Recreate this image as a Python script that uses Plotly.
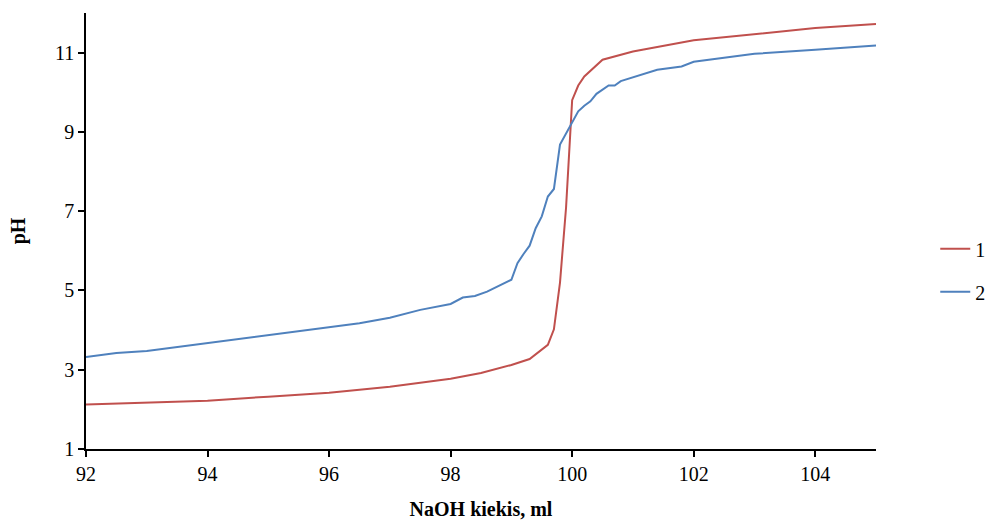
import plotly.graph_objects as go

# Titration curves: pH versus volume of NaOH added
naoh_1 = [92, 93, 94, 95, 96, 97, 98, 98.5, 99, 99.3, 99.6, 99.7, 99.8, 99.9,
          100.0, 100.1, 100.2, 100.5, 101, 102, 103, 104, 105]
ph_1 = [2.12, 2.17, 2.22, 2.32, 2.42, 2.57, 2.77, 2.92, 3.12, 3.27, 3.63, 4.02,
        5.2, 7.1, 9.8, 10.17, 10.4, 10.82, 11.03, 11.31, 11.47, 11.62, 11.72]

naoh_2 = [92, 92.5, 93, 94, 95, 96, 96.5, 97, 97.5, 98, 98.2, 98.4, 98.6, 99.0,
          99.1, 99.2, 99.3, 99.4, 99.5, 99.6, 99.7, 99.8, 99.9, 100.1, 100.2,
          100.3, 100.4, 100.6, 100.7, 100.8, 101.4, 101.8, 102, 103, 104, 105]
ph_2 = [3.32, 3.42, 3.47, 3.67, 3.87, 4.07, 4.17, 4.31, 4.51, 4.66, 4.82, 4.86,
        4.97, 5.27, 5.69, 5.92, 6.13, 6.57, 6.87, 7.37, 7.56, 8.68, 8.97, 9.52,
        9.66, 9.77, 9.96, 10.17, 10.17, 10.28, 10.57, 10.65, 10.77, 10.97,
        11.07, 11.18]

x_ticks = [92, 94, 96, 98, 100, 102, 104]
y_ticks = [1, 3, 5, 7, 9, 11]

font_family = "Liberation Serif"

fig = go.Figure()
fig.add_trace(go.Scatter(x=naoh_1, y=ph_1, mode="lines", name="1",
                         legendgroup="a",
                         line=dict(color="#C0504D", width=2)))
fig.add_trace(go.Scatter(x=naoh_2, y=ph_2, mode="lines", name="2",
                         legendgroup="b",
                         line=dict(color="#4F81BD", width=2)))

axis_common = dict(
    showgrid=False, zeroline=False, showline=True, linecolor="black",
    linewidth=1.5, ticks="outside", ticklen=6, tickcolor="black",
    tickwidth=1.5, automargin=False,
    tickfont=dict(family=font_family, size=20, color="black"),
)

fig.update_layout(
    width=1005, height=522,
    margin=dict(l=86, r=129, t=13, b=73, autoexpand=False),
    paper_bgcolor="white", plot_bgcolor="white",
    font=dict(family=font_family, color="black"),
    xaxis=dict(range=[92, 105], tickvals=x_ticks,
               title=dict(text="<b>NaOH kiekis, ml</b>",
                          font=dict(family=font_family, size=20), standoff=18),
               **axis_common),
    yaxis=dict(range=[1, 12], tickvals=y_ticks,
               title=dict(text="<b>pH</b>",
                          font=dict(family=font_family, size=20), standoff=24),
               **axis_common),
    legend=dict(x=1.075, y=0.41, xanchor="left", yanchor="middle",
                traceorder="grouped", tracegroupgap=14,
                font=dict(family=font_family, size=20, color="black"),
                bgcolor="rgba(0,0,0,0)"),
    showlegend=True,
)

fig.write_html("out.html")
